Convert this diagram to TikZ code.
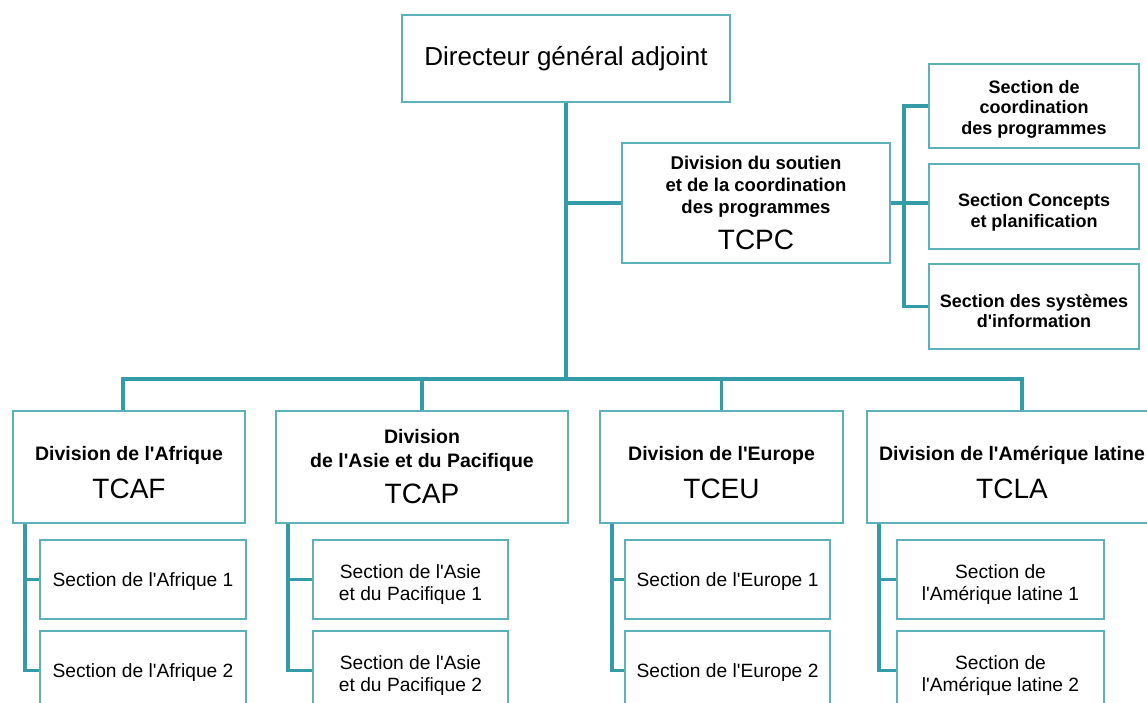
\documentclass[tikz,border=0pt]{standalone}
\usepackage{fontspec}
\setmainfont{Liberation Sans}[Ligatures=TeXOff]
\definecolor{orgteal}{RGB}{52,156,166}
\definecolor{boxteal}{RGB}{92,178,184}
\newcommand{\orgcode}[1]{{\fontsize{28}{30}\selectfont\mdseries #1}}
\newcommand{\tstrut}[1]{\rule{0pt}{#1}}

\begin{document}
\begin{tikzpicture}[x=1pt, y=-1pt,
	orgbox/.style={draw=boxteal, line width=2pt, fill=white, align=center, inner sep=0pt},
	orgline/.style={draw=orgteal, line width=3.3pt},
	headtxt/.style={font=\fontsize{18.5}{22}\selectfont\bfseries},
	sidetxt/.style={font=\fontsize{18}{20.5}\selectfont\bfseries},
	divtxt/.style={font=\fontsize{19.5}{24}\selectfont\bfseries},
	sectxt/.style={font=\fontsize{19.2}{21.5}\selectfont}]
	\clip (0,0) rectangle (1147,703);
	\fill[white] (0,0) rectangle (1147,703);

	% direction
	\node[orgbox, minimum width=328pt, minimum height=87pt, font=\fontsize{26}{30}\selectfont] (dga) at (566,58.5)
	{Directeur général adjoint};
	\node[orgbox, headtxt, minimum width=268pt, minimum height=120pt] (tcpc) at (756,203)
	{Division du soutien\\et de la coordination\\des programmes\\[12pt]\orgcode{TCPC}};
	\node[orgbox, sidetxt, minimum width=210pt, minimum height=84pt] (spc) at (1034,106)
	{\tstrut{19pt}Section de\\coordination\\des programmes};
	\node[orgbox, sidetxt, minimum width=210pt, minimum height=84pt] (scp) at (1034,206.5)
	{\tstrut{25pt}Section Concepts\\et planification};
	\node[orgbox, sidetxt, minimum width=210pt, minimum height=85pt] (ssi) at (1034,306.5)
	{\tstrut{22pt}Section des systèmes\\d'information};

	% divisions
	\node[orgbox, divtxt, minimum width=232pt, minimum height=112pt] (afr) at (129,467)
	{\tstrut{26pt}Division de l'Afrique\\[14pt]\orgcode{TCAF}};
	\node[orgbox, divtxt, minimum width=292pt, minimum height=112pt] (asp) at (422,467)
	{Division\\de l'Asie et du Pacifique\\[12pt]\orgcode{TCAP}};
	\node[orgbox, divtxt, minimum width=243pt, minimum height=112pt] (eur) at (721.5,467)
	{\tstrut{26pt}Division de l'Europe\\[14pt]\orgcode{TCEU}};
	\node[orgbox, divtxt, minimum width=290pt, minimum height=112pt] (lat) at (1012,467)
	{\tstrut{26pt}Division de l'Amérique latine\\[14pt]\orgcode{TCLA}};

	% sections
	\node[orgbox, sectxt, minimum width=206pt, minimum height=79pt] (afr1) at (143,579.5) {\tstrut{18pt}Section de l'Afrique 1};
	\node[orgbox, sectxt, minimum width=206pt, minimum height=79pt] (afr2) at (143,670.5) {\tstrut{18pt}Section de l'Afrique 2};
	\node[orgbox, sectxt, minimum width=195pt, minimum height=79pt] (asp1) at (410.5,579.5) {\tstrut{24pt}Section de l'Asie\\et du Pacifique 1};
	\node[orgbox, sectxt, minimum width=195pt, minimum height=79pt] (asp2) at (410.5,670.5) {\tstrut{24pt}Section de l'Asie\\et du Pacifique 2};
	\node[orgbox, sectxt, minimum width=205pt, minimum height=79pt] (eur1) at (727.5,579.5) {\tstrut{18pt}Section de l'Europe 1};
	\node[orgbox, sectxt, minimum width=205pt, minimum height=79pt] (eur2) at (727.5,670.5) {\tstrut{18pt}Section de l'Europe 2};
	\node[orgbox, sectxt, minimum width=207pt, minimum height=79pt] (lat1) at (1000.5,579.5) {\tstrut{24pt}Section de\\l'Amérique latine 1};
	\node[orgbox, sectxt, minimum width=207pt, minimum height=79pt] (lat2) at (1000.5,670.5) {\tstrut{24pt}Section de\\l'Amérique latine 2};

	% connectors
	\coordinate (bus) at (566,379);
	\draw[orgline] (dga) -- (bus);
	\draw[orgline] (dga.south |- tcpc.west) -- (tcpc.west);
	\draw[orgline] (tcpc.east) -- (tcpc.east -| scp.west);
	\draw[orgline] (spc.west) -- ++(-24,0) |- (ssi.west);
	\draw[orgline] ([xshift=-6pt]afr.north) |- (bus) -| ([xshift=10pt]lat.north);
	\draw[orgline] (asp.north) -- (asp.north |- bus);
	\draw[orgline] (eur.north) -- (eur.north |- bus);
	\foreach \d in {afr,asp,eur,lat} {
		\coordinate (\d sp) at ([xshift=13pt]\d.south west);
		\draw[orgline] (\d sp) |- (\d2.west);
		\draw[orgline] (\d sp |- \d1.west) -- (\d1.west);
	}
\end{tikzpicture}
\end{document}
